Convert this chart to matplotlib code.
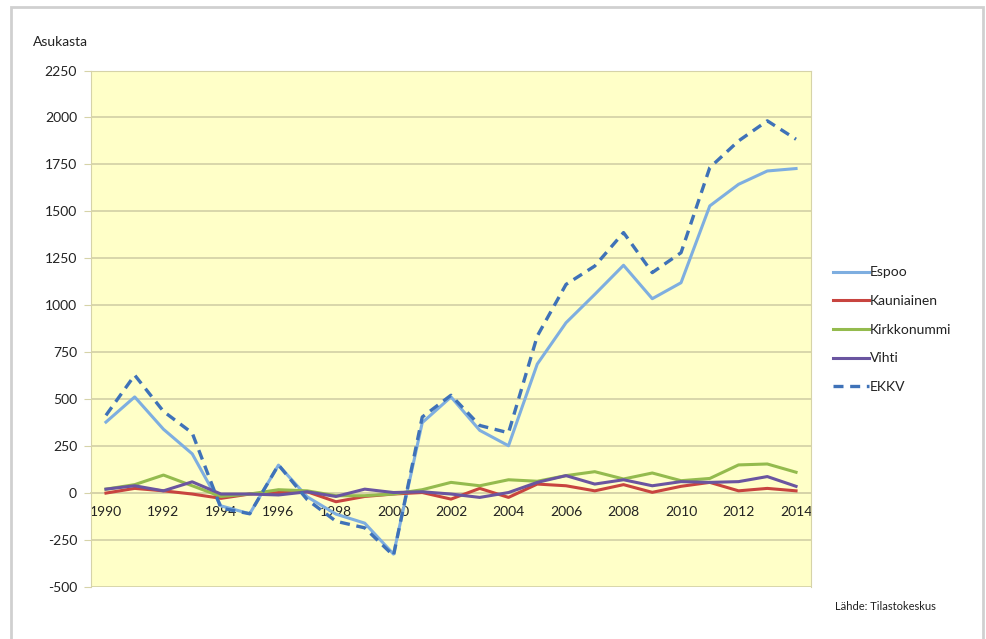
import numpy as np
import matplotlib
matplotlib.use('Agg')
import matplotlib.pyplot as plt
from matplotlib.patches import Rectangle

plt.rcParams['font.family'] = ['Lato', 'DejaVu Sans']
plt.rcParams['axes.unicode_minus'] = False

# Data
years = list(range(1990, 2015))
espoo = [378, 512, 340, 209, -68, -110, 149, -20, -112, -160, -325, 375, 512,
         334, 252, 687, 907, 1058, 1213, 1035, 1120, 1529, 1644, 1715, 1728]
kauniainen = [0, 25, 12, -5, -28, -5, 3, 7, -46, -18, -5, 3, -32,
              25, -23, 48, 39, 12, 45, 4, 36, 57, 12, 25, 12]
kirkkonummi = [21, 45, 96, 39, -18, -5, 18, 12, -14, -14, -5, 18, 57,
               39, 71, 63, 93, 114, 75, 107, 66, 78, 150, 155, 111]
vihti = [21, 39, 12, 60, -5, -5, -10, 7, -18, 21, 3, 7, -5,
         -23, 3, 57, 93, 48, 71, 39, 61, 57, 61, 88, 36]
ekkv = [414, 628, 435, 320, -80, -110, 150, -35, -150, -185, -333, 405, 521,
        360, 321, 836, 1111, 1209, 1387, 1174, 1280, 1733, 1875, 1982, 1884]

y_ticks = list(range(-500, 2251, 250))
x_ticks = list(range(1990, 2015, 2))

fig = plt.figure(figsize=(9.86, 6.39), dpi=100)
ax = fig.add_axes([91/986, 1 - 587/639, (811 - 91)/986, (587 - 70.5)/639])

grid_col = '#d6d3a8'
ax.set_facecolor('#ffffc8')

ax.plot(years, espoo, color='#7eaee0', lw=2.2, label='Espoo', zorder=3)
ax.plot(years, kauniainen, color='#c8443f', lw=2.2, label='Kauniainen', zorder=3)
ax.plot(years, kirkkonummi, color='#94bb4e', lw=2.2, label='Kirkkonummi', zorder=3)
ax.plot(years, vihti, color='#6a55a0', lw=2.2, label='Vihti', zorder=3)
ax.plot(years, ekkv, color='#3f72b8', lw=2.4, ls=(0, (3, 2)), label='EKKV', zorder=4)

ax.set_xlim(1989.48, 2014.52)
ax.set_ylim(-500, 2250)
ax.set_yticks(y_ticks)
ax.set_xticks(x_ticks)
ax.set_xticklabels([str(y) for y in x_ticks])
ax.grid(axis='y', color=grid_col, lw=1.3, zorder=1)
ax.set_axisbelow(True)

for s in ['top', 'right']:
    ax.spines[s].set_color(grid_col)
ax.spines['left'].set_color(grid_col)
ax.spines['bottom'].set_position(('data', 0))
ax.spines['bottom'].set_color(grid_col)
ax.spines['bottom'].set_linewidth(1.3)
ax.tick_params(axis='y', length=5, color=grid_col, labelsize=10, labelcolor='#222222', pad=5)
ax.tick_params(axis='x', length=0, labelsize=10, labelcolor='#222222', pad=9)

fig.text(33/986, 1 - 42/639, 'Asukasta', fontsize=10, color='#222222', va='center')
fig.text(885/986, 1 - 607/639, 'Lähde: Tilastokeskus', fontsize=8, color='#222222',
         ha='center', va='center')

leg = ax.legend(loc='upper left', bbox_to_anchor=(820/986, 1 - 254/639),
                bbox_transform=fig.transFigure, frameon=False, fontsize=10,
                handlelength=2.6, handletextpad=0.1, labelspacing=1.2)
for t in leg.get_texts():
    t.set_color('#222222')

# outer chart frame
fig.patches.append(Rectangle((11/986, -0.01), (983 - 11)/986, 1 - 7/639 + 0.01,
                             transform=fig.transFigure, fill=False,
                             edgecolor='#d0d0d0', lw=2))

fig.savefig('out.png', dpi=100, facecolor='white')
